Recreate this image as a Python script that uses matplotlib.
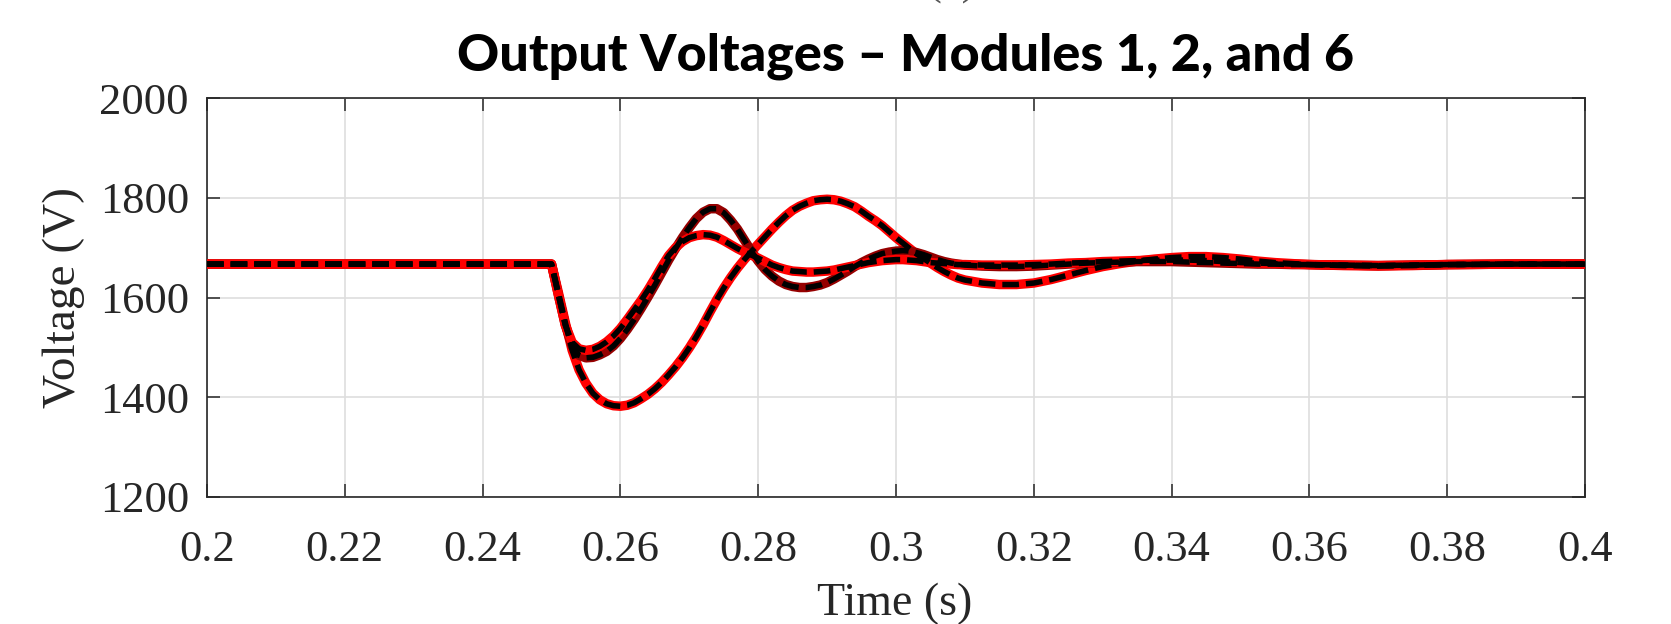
import matplotlib
matplotlib.use("Agg")
import matplotlib.pyplot as plt

# ---------------- data ----------------
TIME = [0.200, 0.250,
        0.251, 0.252, 0.253, 0.254, 0.255, 0.256, 0.257, 0.258, 0.259, 0.260,
        0.261, 0.262, 0.263, 0.264, 0.265, 0.266, 0.267, 0.268, 0.269, 0.270,
        0.271, 0.272, 0.273, 0.274, 0.275, 0.276, 0.277, 0.278, 0.279, 0.280,
        0.281, 0.282, 0.283, 0.284, 0.285, 0.286, 0.287, 0.288, 0.289, 0.290,
        0.291, 0.292, 0.293, 0.294, 0.295, 0.296, 0.297, 0.298, 0.299, 0.300,
        0.301, 0.302, 0.303, 0.304, 0.305, 0.306, 0.307, 0.308, 0.309, 0.310,
        0.3125, 0.315, 0.3175, 0.320, 0.3225, 0.325, 0.3275, 0.330, 0.3325, 0.335,
        0.3375, 0.340, 0.3425, 0.345, 0.3475, 0.350, 0.3525, 0.355, 0.3575, 0.360,
        0.365, 0.370, 0.375, 0.380, 0.390, 0.400]

# Module with the deep dip / late peak
V_DEEP = [1667, 1667,
          1610, 1550, 1494, 1455, 1428, 1408, 1395, 1387, 1383, 1382,
          1384, 1389, 1397, 1406, 1417, 1430, 1445, 1461, 1479, 1499,
          1521, 1545, 1571, 1596, 1619, 1640, 1659, 1676, 1692, 1707,
          1722, 1737, 1751, 1764, 1775, 1783, 1789, 1794, 1796, 1797,
          1796, 1793, 1788, 1782, 1773, 1763, 1754, 1744, 1732, 1720,
          1709, 1698, 1687, 1678, 1669, 1660, 1652, 1645, 1639, 1635,
          1629, 1626, 1626, 1629, 1636, 1645, 1654, 1662, 1668, 1673,
          1677, 1680, 1682, 1682, 1680, 1677, 1673, 1670, 1668, 1666,
          1664, 1663, 1664, 1666, 1667, 1667]

# Module with the high early peak
V_HIGH = [1667, 1667,
          1605, 1545, 1503, 1484, 1479, 1480, 1485, 1492, 1503, 1518,
          1536, 1556, 1578, 1601, 1625, 1650, 1675, 1698, 1720, 1740,
          1758, 1771, 1778, 1778, 1770, 1755, 1737, 1715, 1693, 1673,
          1656, 1643, 1633, 1626, 1622, 1620, 1620, 1622, 1625, 1630,
          1637, 1645, 1653, 1662, 1670, 1677, 1683, 1688, 1691, 1693,
          1694, 1693, 1690, 1686, 1681, 1676, 1672, 1669, 1667, 1665,
          1663, 1662, 1662, 1663, 1665, 1667, 1669, 1670, 1671, 1672,
          1672, 1672, 1671, 1670, 1669, 1668, 1667, 1667, 1666, 1666,
          1665, 1664, 1665, 1666, 1667, 1667]

# Module with the low early peak
V_LOW = [1667, 1667,
         1605, 1545, 1510, 1497, 1494, 1496, 1502, 1511, 1523, 1538,
         1556, 1575, 1594, 1615, 1638, 1662, 1684, 1700, 1712, 1720,
         1724, 1726, 1725, 1721, 1714, 1706, 1698, 1691, 1685, 1679,
         1672, 1665, 1660, 1656, 1653, 1652, 1651, 1651, 1652, 1653,
         1655, 1658, 1661, 1664, 1667, 1670, 1672, 1674, 1675, 1676,
         1676, 1675, 1674, 1672, 1670, 1669, 1668, 1667, 1666, 1666,
         1665, 1665, 1665, 1666, 1667, 1669, 1670, 1672, 1673, 1674,
         1675, 1675, 1675, 1674, 1672, 1670, 1669, 1668, 1667, 1666,
         1665, 1664, 1665, 1666, 1667, 1667]

X_TICKS = [0.2, 0.22, 0.24, 0.26, 0.28, 0.3, 0.32, 0.34, 0.36, 0.38, 0.4]
X_TICKLABELS = ["0.2", "0.22", "0.24", "0.26", "0.28", "0.3", "0.32", "0.34", "0.36", "0.38", "0.4"]
Y_TICKS = [1200, 1400, 1600, 1800, 2000]
Y_TICKLABELS = ["1200", "1400", "1600", "1800", "2000"]

TITLE = "Output Voltages \u2013 Modules 1, 2, and 6"
XLABEL = "Time (s)"
YLABEL = "Voltage (V)"

# ---------------- figure ----------------
plt.rcParams["lines.scale_dashes"] = False
W, H = 1671, 624
fig = plt.figure(figsize=(W / 100, H / 100), dpi=100)
L, R, T, B = 207, 1585, 98, 497
ax = fig.add_axes([L / W, 1 - B / H, (R - L) / W, (B - T) / H])

serif = ["Liberation Serif", "DejaVu Serif"]
gray = "#262626"

red_colors = ["#ff0000", "#960000", "#ff0000"]
series = [V_DEEP, V_HIGH, V_LOW]
for v, c in zip(series, red_colors):
    ax.plot(TIME, v, color=c, lw=6.8, solid_capstyle="butt", zorder=3)
for v in series:
    ax.plot(TIME, v, color="black", lw=4.0, dashes=(12, 5), zorder=4)

ax.set_xlim(0.2, 0.4)
ax.set_ylim(1200, 2000)
ax.set_xticks(X_TICKS)
ax.set_xticklabels(X_TICKLABELS, fontfamily=serif, fontsize=32, color=gray)
ax.set_yticks(Y_TICKS)
ax.set_yticklabels(Y_TICKLABELS, fontfamily=serif, fontsize=32, color=gray)
ax.tick_params(axis="both", direction="in", length=9.5, width=1.1, colors=gray,
               top=True, right=True)
ax.tick_params(axis="x", pad=24)
ax.tick_params(axis="y", pad=13)
ax.grid(True, color="#dedede", lw=1.2, zorder=0)
ax.set_axisbelow(True)
for s in ax.spines.values():
    s.set_color(gray)
    s.set_linewidth(1.2)

fig.text(895 / W, 1 - 604 / H, XLABEL, fontfamily=serif, fontsize=33, color=gray,
         ha="center", va="center")
fig.text(64 / W, 1 - 297 / H, YLABEL, fontfamily=serif, fontsize=34, color=gray,
         ha="center", va="center", rotation=90)

fig.text(906 / W, 1 - 56 / H, TITLE, fontfamily=["Lato", "DejaVu Sans"], fontweight="black",
         fontsize=37.5, color="black", ha="center", va="center")

# fragment of the panel tag above the title (cut off by the top edge)
fig.text(952 / W, 1 + 5 / H, "(c)", fontfamily=serif, fontsize=32, color="#555555",
         ha="center", va="baseline")

fig.savefig("out.png", dpi=100)
